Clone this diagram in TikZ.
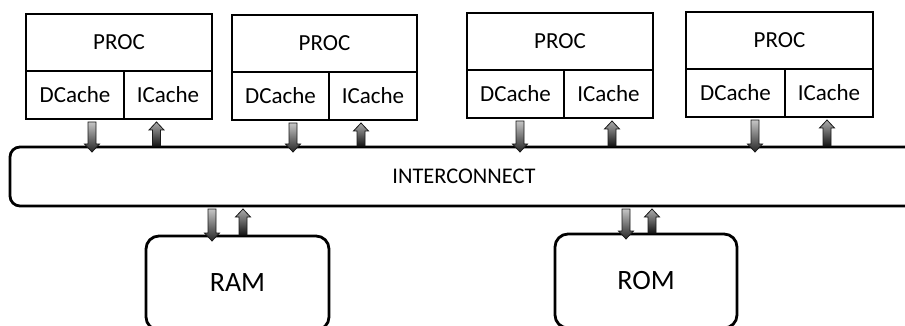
\documentclass[tikz,border=0pt]{standalone}
\usepackage{fontspec}
\setmainfont{Carlito}
\usepackage{tikz}
\usetikzlibrary{calc}

\tikzset{
  procbox/.style={draw, line width=1.3pt, rectangle, inner sep=0pt, outer sep=0pt,
    minimum height=28.5pt, anchor=north west, font=\fontsize{11.5}{13}\selectfont},
  cachebox/.style={draw, line width=1.3pt, rectangle, inner sep=0pt, outer sep=0pt,
    minimum height=24pt, font=\fontsize{11.5}{13}\selectfont},
  busbox/.style={draw, line width=1.4pt, rectangle, rounded corners=5pt, inner sep=0pt,
    outer sep=0pt, anchor=north west, font=\fontsize{11.2}{13}\selectfont},
  membox/.style={draw, line width=1.4pt, rectangle, rounded corners=6.5pt, inner sep=0pt,
    outer sep=0pt, anchor=north west, minimum width=91.5pt, minimum height=47pt,
    font=\fontsize{14}{16}\selectfont},
  downshade/.style={draw=black!90, line width=0.4pt, top color=gray!45, bottom color=black!85},
  upshade/.style={draw=black!90, line width=0.4pt, top color=gray!65, bottom color=black!92}
}

% block arrows between an upper node (#2) and a lower node (#3), at x = #1
\newcommand{\busdown}[3]{%
  \coordinate (ax) at (#1,0);
  \coordinate (a) at (#2.south -| ax);
  \coordinate (b) at (#3.north -| ax);
  \shade[downshade] ($(a)+(-4,3)$) -- ($(a)+(4,3)$) -- ($(b)+(4,-3)$) -- ($(b)+(7.5,-3)$)
    -- ($(b)+(0,5)$) -- ($(b)+(-7.5,-3)$) -- ($(b)+(-4,-3)$) -- cycle;
}
\newcommand{\busup}[3]{%
  \coordinate (ax) at (#1,0);
  \coordinate (a) at (#3.north -| ax);
  \coordinate (b) at (#2.south -| ax);
  \shade[upshade] ($(a)+(-4,-1)$) -- ($(b)+(-4,11)$) -- ($(b)+(-7.5,11)$) -- ($(b)+(0,3)$)
    -- ($(b)+(7.5,11)$) -- ($(b)+(4,11)$) -- ($(a)+(4,-1)$) -- cycle;
}

\begin{document}
\begin{tikzpicture}[x=0.5pt, y=-0.5pt]
  \useasboundingbox (0,0) rectangle (905,326);
  \clip (0,0) rectangle (905,326);

  % processors
  \node[procbox, minimum width=93pt] (p1) at (26,14) {PROC};
  \node[cachebox, anchor=north west, minimum width=49pt] (d1) at (p1.south west) {DCache};
  \node[cachebox, anchor=north east, minimum width=44pt] (i1) at (p1.south east) {ICache};

  \node[procbox, minimum width=92.5pt] (p2) at (232,15) {PROC};
  \node[cachebox, anchor=north west, minimum width=48.5pt] (d2) at (p2.south west) {DCache};
  \node[cachebox, anchor=north east, minimum width=44pt] (i2) at (p2.south east) {ICache};

  \node[procbox, minimum width=93pt] (p3) at (467,13) {PROC};
  \node[cachebox, anchor=north west, minimum width=48.5pt] (d3) at (p3.south west) {DCache};
  \node[cachebox, anchor=north east, minimum width=44.5pt] (i3) at (p3.south east) {ICache};

  \node[procbox, minimum width=93.5pt] (p4) at (686,12) {PROC};
  \node[cachebox, anchor=north west, minimum width=49.5pt] (d4) at (p4.south west) {DCache};
  \node[cachebox, anchor=north east, minimum width=44pt] (i4) at (p4.south east) {ICache};

  % interconnect and memories
  \node[busbox, minimum width=454pt, minimum height=29.5pt] (bus) at (10,147) {INTERCONNECT};
  \node[membox] (ram) at (146,236) {RAM};
  \node[membox, minimum width=91pt] (rom) at (555,234) {ROM};

  % arrows
  \busdown{92}{d1}{bus}
  \busup{156.5}{i1}{bus}
  \busdown{293}{d2}{bus}
  \busup{361}{i2}{bus}
  \busdown{520}{d3}{bus}
  \busup{612}{i3}{bus}
  \busdown{755}{d4}{bus}
  \busup{827}{i4}{bus}
  \busdown{212}{bus}{ram}
  \busup{243}{bus}{ram}
  \busdown{626}{bus}{rom}
  \busup{652}{bus}{rom}
\end{tikzpicture}
\end{document}
